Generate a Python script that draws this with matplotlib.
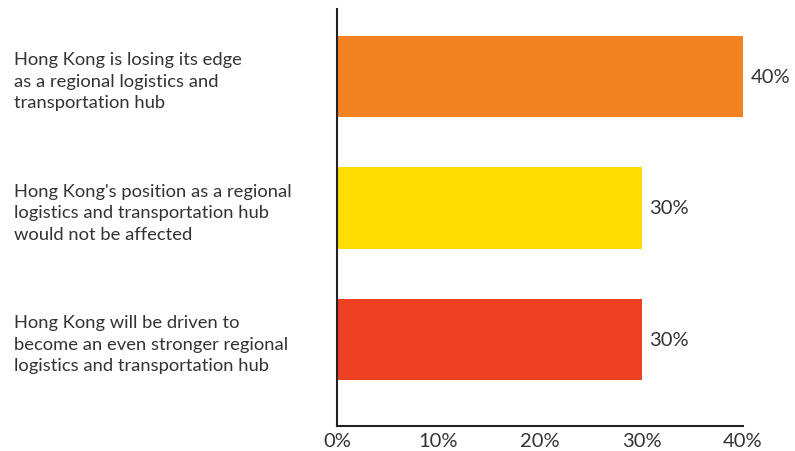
import matplotlib.pyplot as plt

plt.rcParams['font.family'] = ['Lato', 'DejaVu Sans']

labels = [
    'Hong Kong is losing its edge\nas a regional logistics and\ntransportation hub',
    "Hong Kong's position as a regional\nlogistics and transportation hub\nwould not be affected",
    'Hong Kong will be driven to\nbecome an even stronger regional\nlogistics and transportation hub',
]
values = [40, 30, 30]
colors = ['#F28322', '#FFDD00', '#EE4023']
xticks = [0, 10, 20, 30, 40]

text_color = '#333333'

fig = plt.figure(figsize=(7.95, 4.52), dpi=100)
ax = fig.add_axes([337 / 795, 1 - 427 / 452, (743 - 337) / 795, (427 - 10) / 452])

pos = list(range(len(values)))
ax.barh(pos, values, height=0.62, color=colors)
ax.set_ylim(2.658, -0.513)
ax.set_xlim(0, 40)

for p, v in zip(pos, values):
    ax.text(v + 0.8, p, f'{v}%', va='center', ha='left', fontsize=14.5, color=text_color)

ax.set_xticks(xticks)
ax.set_xticklabels([f'{t}%' for t in xticks], fontsize=14.5, color=text_color)
ax.set_yticks(pos)
ax.set_yticklabels(labels, fontsize=13.2, color=text_color, linespacing=1.42)
for t in ax.get_yticklabels():
    t.set_horizontalalignment('left')
ax.tick_params(axis='y', length=0, pad=(337 - 14) * 0.72)
ax.tick_params(axis='x', length=0, pad=4)

for side in ['top', 'right']:
    ax.spines[side].set_visible(False)
for side in ['left', 'bottom']:
    ax.spines[side].set_color('#222222')
    ax.spines[side].set_linewidth(1.5)

fig.savefig('out.png', dpi=100)
